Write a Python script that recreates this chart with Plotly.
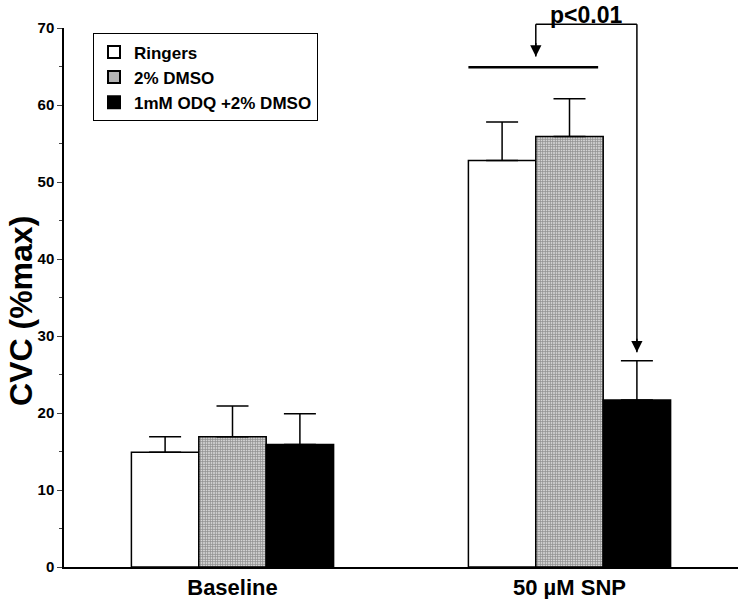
import plotly.graph_objects as go

categories = ["Baseline", "50 µM SNP"]
series_names = ["Ringers", "2% DMSO", "1mM ODQ +2% DMSO"]
ringers = [14.9, 52.8]
ringers_err = [2.0, 5.0]
dmso = [16.9, 55.9]
dmso_err = [4.0, 4.9]
odq = [15.9, 21.7]
odq_err = [4.0, 5.1]
y_ticks = [0, 10, 20, 30, 40, 50, 60, 70]

X_RANGE = [-0.5, 1.5]
Y_RANGE = [0, 70]

def px(x):
    return (x - X_RANGE[0]) / (X_RANGE[1] - X_RANGE[0])

def py(v):
    return (v - Y_RANGE[0]) / (Y_RANGE[1] - Y_RANGE[0])

FONT = "Liberation Sans, Arial, Helvetica, sans-serif"

fig = go.Figure()
err_style = dict(type="data", symmetric=False, thickness=1.5, width=16, color="black")

fig.add_bar(x=categories, y=ringers, name=series_names[0],
            marker=dict(color="white", line=dict(color="black", width=1.5)),
            error_y=dict(array=ringers_err, arrayminus=[0, 0], **err_style))
fig.add_bar(x=categories, y=dmso, name=series_names[1],
            marker=dict(color="white", line=dict(color="black", width=1.5),
                        pattern=dict(shape="+", size=2.5, solidity=0.7,
                                     fgcolor="#222222", bgcolor="white", fillmode="overlay")),
            error_y=dict(array=dmso_err, arrayminus=[0, 0], **err_style))
fig.add_bar(x=categories, y=odq, name=series_names[2],
            marker=dict(color="black", line=dict(color="black", width=1.5)),
            error_y=dict(array=odq_err, arrayminus=[0, 0], **err_style))

# significance bracket (paper coordinates derived from data values)
left_x, right_x = 0.9, 1.2
top_y = 70.5
bar_line_y, bar_line_x0, bar_line_x1 = 64.9, 0.7, 1.085
left_tip, right_tip = 66.3, 27.9
line = dict(color="black", width=1.5)
shapes = [
    dict(type="line", xref="paper", yref="paper", x0=px(bar_line_x0), x1=px(bar_line_x1),
         y0=py(bar_line_y), y1=py(bar_line_y), line=dict(color="black", width=2.5)),
    dict(type="line", xref="paper", yref="paper", x0=px(left_x), x1=px(right_x),
         y0=py(top_y), y1=py(top_y), line=line),
    dict(type="line", xref="paper", yref="paper", x0=px(left_x), x1=px(left_x),
         y0=py(top_y), y1=py(left_tip), line=line),
    dict(type="line", xref="paper", yref="paper", x0=px(right_x), x1=px(right_x),
         y0=py(top_y), y1=py(right_tip), line=line),
]
annotations = [
    dict(x=px(left_x), y=py(left_tip), xref="paper", yref="paper", ax=0, ay=-15,
         showarrow=True, arrowhead=2, arrowsize=1.5, arrowwidth=1.5, arrowcolor="black", text=""),
    dict(x=px(right_x), y=py(right_tip), xref="paper", yref="paper", ax=0, ay=-15,
         showarrow=True, arrowhead=2, arrowsize=1.5, arrowwidth=1.5, arrowcolor="black", text=""),
    dict(x=px(1.05), y=py(71.7), xref="paper", yref="paper", text="p<0.01", showarrow=False,
         xanchor="center", yanchor="middle",
         font=dict(family=FONT, size=23, color="black", weight="bold")),
    # y-axis title
    dict(x=-0.0638, y=0.475, xref="paper", yref="paper", text="CVC (%max)", showarrow=False,
         textangle=-90, xanchor="center", yanchor="middle",
         font=dict(family=FONT, size=32, color="black", weight="bold")),
]

fig.update_layout(
    width=741, height=599,
    margin=dict(l=64, r=3, t=28, b=32),
    paper_bgcolor="white", plot_bgcolor="white",
    barmode="group", bargap=0.4, bargroupgap=0,
    font=dict(family=FONT, color="black"),
    shapes=shapes, annotations=annotations,
    legend=dict(x=0.043, y=0.99, xanchor="left", yanchor="top",
                bordercolor="black", borderwidth=1, bgcolor="white",
                font=dict(family=FONT, size=17, weight="bold"),
                tracegroupgap=0, itemsizing="constant"),
    xaxis=dict(range=X_RANGE, showline=True, linecolor="black", linewidth=2,
               ticks="", showgrid=False, zeroline=False, automargin=False,
               tickfont=dict(family=FONT, size=22, weight="bold")),
    yaxis=dict(range=Y_RANGE, tickvals=y_ticks, showline=True, linecolor="black", linewidth=1.5,
               ticks="outside", ticklen=5, tickwidth=1, showgrid=False, zeroline=False,
               automargin=False,
               minor=dict(dtick=5, ticks="outside", ticklen=3, tickwidth=1, showgrid=False),
               tickfont=dict(family=FONT, size=15, weight="bold")),
)

# remove the default 8px page margin so the figure fills the window exactly
fig.write_html("out.html", config={"displayModeBar": False},
               post_script="document.body.style.margin='0';document.body.style.padding='0';"
                           "document.body.style.overflow='hidden';")
